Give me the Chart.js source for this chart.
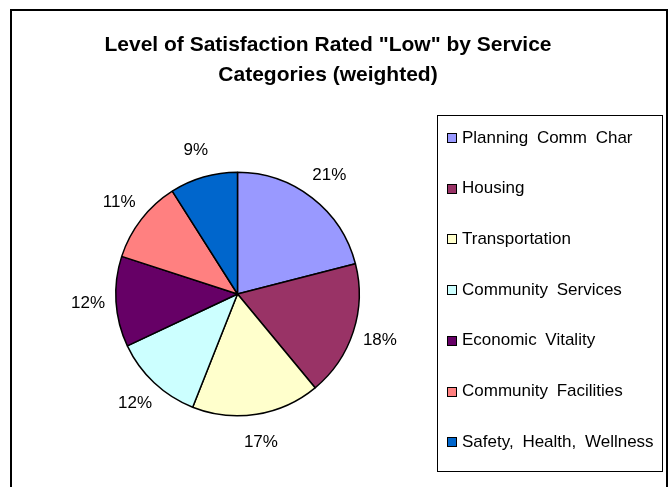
<!DOCTYPE html>
<html>
<head>
<meta charset="utf-8">
<script src="https://cdn.jsdelivr.net/npm/chart.js@4"></script>
<style>
  html, body { margin: 0; padding: 0; background: #fff; }
  #wrap { width: 671px; height: 487px; position: relative; }
</style>
</head>
<body>
<div id="wrap"><canvas id="c" width="671" height="487"></canvas></div>
<script>
const labels = ['Planning Comm Char', 'Housing', 'Transportation', 'Community Services',
  'Economic Vitality', 'Community Facilities', 'Safety, Health, Wellness'];
const shares = [21, 18, 17, 12, 12, 11, 9];
const colors = ['#9999FF', '#993366', '#FFFFCC', '#CCFFFF', '#660066', '#FF8080', '#0066CC'];
const titleLines = ['Level of Satisfaction Rated "Low" by Service', 'Categories (weighted)'];

const FONT = '"Liberation Sans", Arial, sans-serif';

// frame, title, outside % labels and the boxed legend (Excel style)
const excelLook = {
  id: 'excelLook',
  beforeDraw(chart) {
    const { ctx } = chart;
    ctx.save();
    ctx.fillStyle = '#fff';
    ctx.fillRect(0, 0, chart.width, chart.height);
    ctx.strokeStyle = '#000';
    ctx.lineWidth = 2;
    ctx.strokeRect(11, 10, 656, 490);
    ctx.restore();
  },
  afterDraw(chart) {
    const { ctx } = chart;
    ctx.save();
    ctx.fillStyle = '#000';
    ctx.textAlign = 'center';
    ctx.textBaseline = 'middle';
    ctx.font = 'bold 21px ' + FONT;
    titleLines.forEach((t, i) => ctx.fillText(t, 328, 45 + i * 30));

    // percentage labels outside each slice
    ctx.font = '17px ' + FONT;
    const meta = chart.getDatasetMeta(0);
    meta.data.forEach((arc, i) => {
      const mid = (arc.startAngle + arc.endAngle) / 2;
      const d = arc.outerRadius + 28;
      ctx.fillText(shares[i] + '%', arc.x + Math.cos(mid) * d, arc.y + Math.sin(mid) * d);
    });

    // legend box
    ctx.lineWidth = 1;
    ctx.strokeStyle = '#000';
    ctx.strokeRect(437.5, 115.5, 225, 356);
    ctx.textAlign = 'left';
    ctx.wordSpacing = '4px';
    labels.forEach((lab, i) => {
      const y = 138 + i * 50.7;
      ctx.fillStyle = colors[i];
      ctx.fillRect(447.5, Math.round(y) - 4.5, 9, 9);
      ctx.strokeRect(447.5, Math.round(y) - 4.5, 9, 9);
      ctx.fillStyle = '#000';
      ctx.fillText(lab, 462, y);
    });
    ctx.restore();
  }
};

new Chart(document.getElementById('c'), {
  type: 'pie',
  data: {
    labels,
    datasets: [{ data: shares, backgroundColor: colors, borderColor: '#000', borderWidth: 1.5 }]
  },
  options: {
    responsive: false,
    animation: false,
    layout: { padding: { left: 115, right: 311, top: 171, bottom: 70 } },
    plugins: { legend: { display: false }, tooltip: { enabled: false }, title: { display: false } }
  },
  plugins: [excelLook]
});
</script>
</body>
</html>
